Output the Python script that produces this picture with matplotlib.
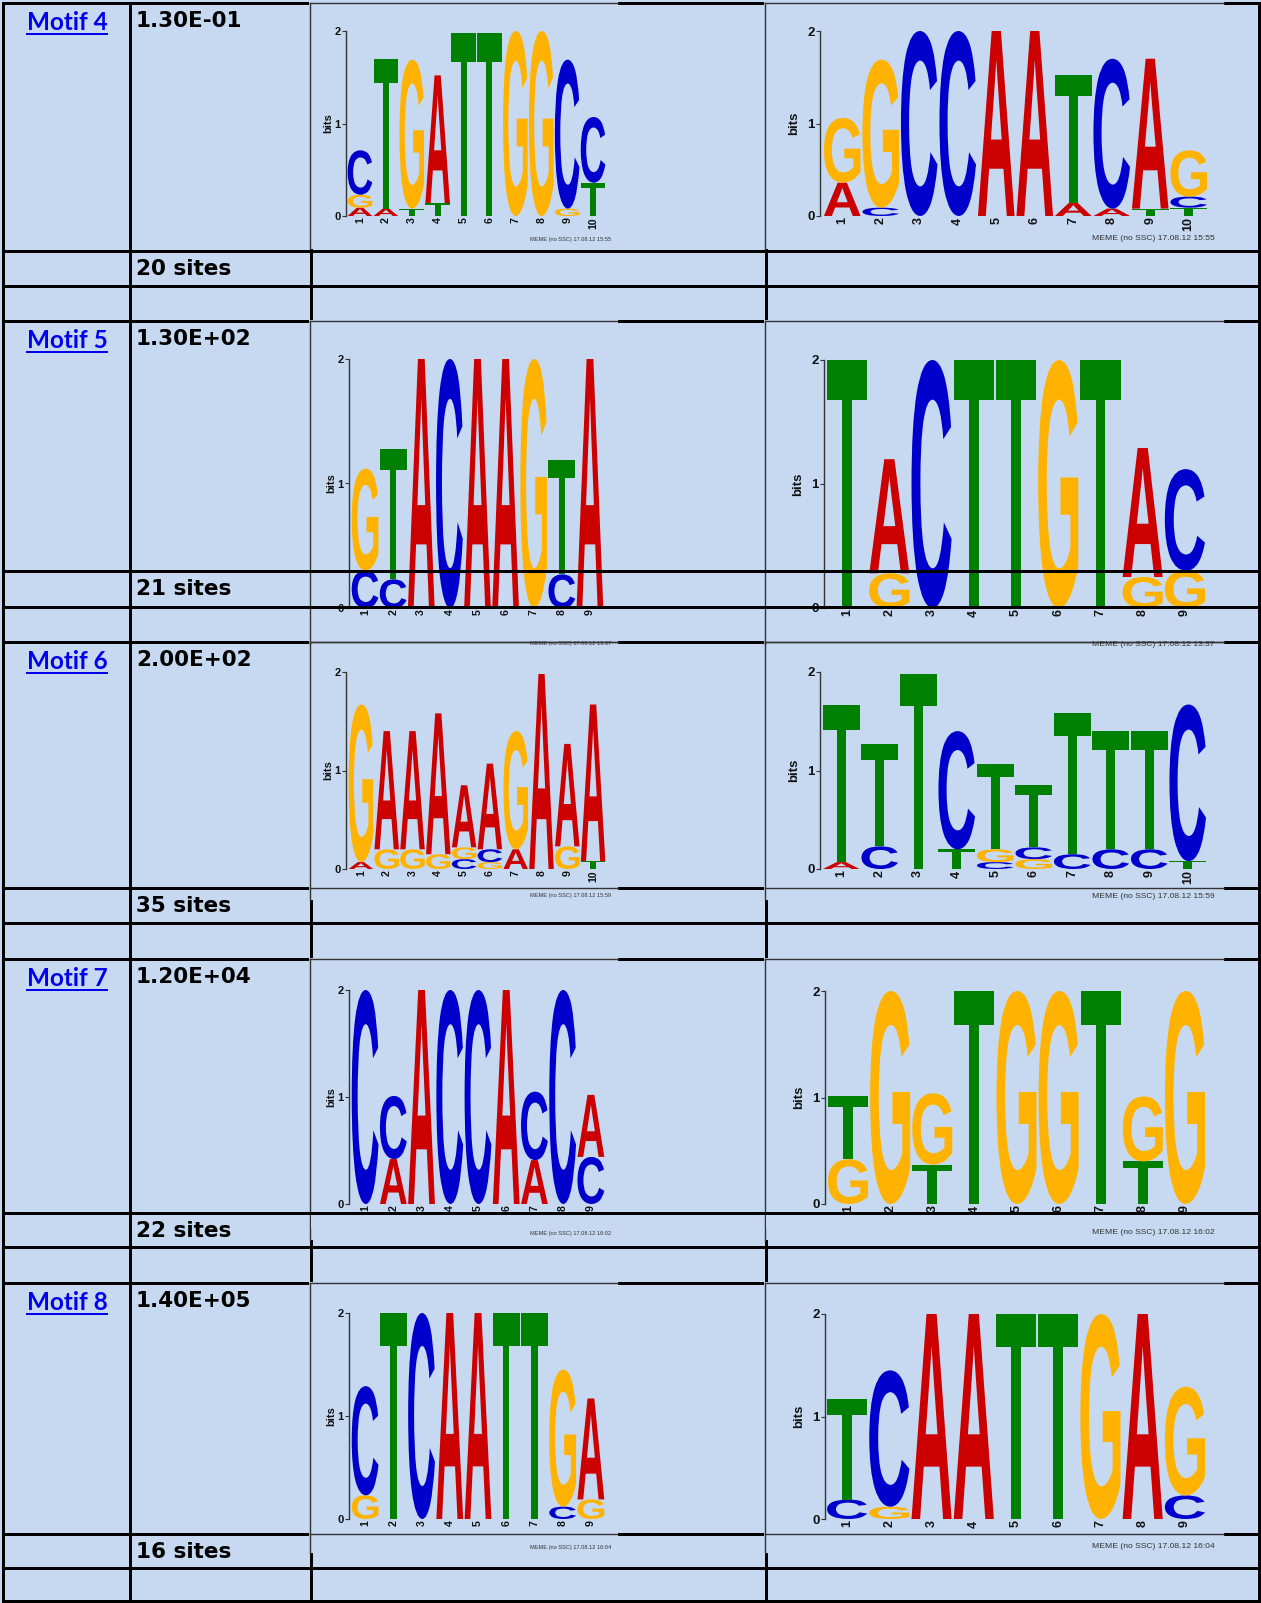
import matplotlib
matplotlib.use('Agg')
import matplotlib.pyplot as plt
from matplotlib.font_manager import FontProperties
from matplotlib.patches import PathPatch, Rectangle
from matplotlib.textpath import TextPath
from matplotlib.transforms import Affine2D

# --- Table content ---
motif_names = ['Motif 4', 'Motif 5', 'Motif 6', 'Motif 7', 'Motif 8']
evalues = ['1.30E-01', '1.30E+02', '2.00E+02', '1.20E+04', '1.40E+05']
site_counts = [20, 21, 35, 22, 16]
stamps = ['17.08.12 15:55', '17.08.12 13:37', '17.08.12 15:59',
          '17.08.12 16:02', '17.08.12 16:04']

# --- Logo data: letters of each column bottom to top, heights in bits ---
m4_fwd_letters = ['AGC', 'AT', 'TG', 'TA', 'T', 'T', 'G', 'G', 'GC', 'TC']
m4_fwd_bits = [[.09, .14, .48], [.08, 1.62], [.08, 1.61], [.14, 1.38], [1.98],
               [1.98], [2.0], [2.0], [.08, 1.61], [.36, .71]]
m4_rev_letters = ['AG', 'CG', 'C', 'C', 'A', 'A', 'AT', 'AC', 'TA', 'TCG']
m4_rev_bits = [[.36, .70], [.09, 1.60], [2.0], [2.0], [2.0], [2.0],
               [.14, 1.38], [.08, 1.62], [.08, 1.62], [.09, .12, .50]]

m5_fwd_letters = ['CG', 'CT', 'A', 'C', 'A', 'A', 'G', 'CT', 'A']
m5_fwd_bits = [[.30, .82], [.23, 1.05], [2.0], [2.0], [2.0], [2.0], [2.0],
               [.27, .92], [2.0]]
m5_rev_letters = ['T', 'GA', 'C', 'T', 'T', 'G', 'T', 'GA', 'GC']
m5_rev_bits = [[2.0], [.28, .92], [2.0], [2.0], [2.0], [2.0], [2.0],
               [.25, 1.04], [.30, .82]]

m6_fwd_letters = ['AG', 'GA', 'GA', 'GA', 'CGA', 'GCA', 'AG', 'A', 'GA', 'TA']
m6_fwd_bits = [[.07, 1.60], [.20, 1.20], [.20, 1.20], [.15, 1.43],
               [.10, .12, .63], [.07, .13, .87], [.20, 1.20], [1.98],
               [.23, 1.04], [.08, 1.59]]
m6_rev_letters = ['AT', 'CT', 'T', 'TC', 'CGT', 'GCT', 'CT', 'CT', 'CT', 'TC']
m6_rev_bits = [[.07, 1.60], [.23, 1.04], [1.98], [.20, 1.20], [.07, .13, .87],
               [.10, .12, .63], [.15, 1.43], [.20, 1.20], [.20, 1.20],
               [.08, 1.59]]

m7_fwd_letters = ['C', 'AC', 'A', 'C', 'C', 'A', 'AC', 'C', 'CA']
m7_fwd_bits = [[2.0], [.42, .59], [2.0], [2.0], [2.0], [2.0], [.41, .64],
               [2.0], [.44, .58]]
m7_rev_letters = ['GT', 'G', 'TG', 'T', 'G', 'G', 'T', 'TG', 'G']
m7_rev_bits = [[.42, .59], [2.0], [.37, .67], [2.0], [2.0], [2.0], [2.0],
               [.40, .61], [2.0]]

m8_fwd_letters = ['GC', 'T', 'C', 'A', 'A', 'T', 'T', 'CG', 'GA']
m8_fwd_bits = [[.23, 1.06], [2.0], [2.0], [2.0], [2.0], [2.0], [2.0],
               [.12, 1.33], [.19, .98]]
m8_rev_letters = ['CT', 'GC', 'A', 'A', 'T', 'T', 'G', 'A', 'CG']
m8_rev_bits = [[.19, .98], [.12, 1.33], [2.0], [2.0], [2.0], [2.0], [2.0],
               [2.0], [.23, 1.06]]

fwd_logos = [(m4_fwd_letters, m4_fwd_bits), (m5_fwd_letters, m5_fwd_bits),
             (m6_fwd_letters, m6_fwd_bits), (m7_fwd_letters, m7_fwd_bits),
             (m8_fwd_letters, m8_fwd_bits)]
rev_logos = [(m4_rev_letters, m4_rev_bits), (m5_rev_letters, m5_rev_bits),
             (m6_rev_letters, m6_rev_bits), (m7_rev_letters, m7_rev_bits),
             (m8_rev_letters, m8_rev_bits)]

# --- Layout (pixels, origin top left) ---
W, H = 1261, 1603
BG = '#C6D9F1'
PX = 0.72
H_LINES = [3, 251, 286, 321, 571, 607, 642, 888, 923, 959, 1213, 1247,
           1283, 1534, 1568, 1601]
V_LINES = [3, 130, 311, 766, 1259]
ROW_TOPS = [3, 321, 642, 959, 1283]
SITE_TOPS = [251, 571, 888, 1213, 1534]
# image blocks: top, bottom, extra thin lines, thick lines drawn over
IMG_Y = [(3, 249, [], []), (321, 644, [642], [571, 607]),
         (642, 900, [888], []), (959, 1240, [], [1213]),
         (1283, 1553, [1534], [])]
IMG_X = [(310, 618), (765, 1224)]
MEME_Y = [239, 644, 896, 1233, 1547]
# spine x, first letter x, last letter x, y of 0 bits, y of 2 bits
LEFT_GEOM = [(346, 347, 606, 216, 31), (349, 351, 604, 608, 359),
             (346, 348, 606, 869, 672), (349, 351, 605, 1204, 990),
             (349, 351, 605, 1519, 1313)]
RIGHT_GEOM = [(820, 823, 1208, 216, 31), (824, 826, 1206, 608, 360),
              (820, 822, 1207, 869, 672), (825, 827, 1206, 1204, 991),
              (825, 826, 1206, 1519, 1314)]

COLORS = {'A': '#CC0000', 'C': '#0000CC', 'G': '#FFB300', 'T': '#008000'}
LETTER_FP = FontProperties(family='Liberation Sans', weight='bold')

fig = plt.figure(figsize=(W / 100, H / 100), dpi=100, facecolor=BG)

bg = fig.add_axes([0, 0, 1, 1])
bg.set_xlim(0, W)
bg.set_ylim(H, 0)
bg.axis('off')
bg.set_zorder(0)

fg = fig.add_axes([0, 0, 1, 1])
fg.set_xlim(0, W)
fg.set_ylim(H, 0)
fg.axis('off')
fg.patch.set_visible(False)
fg.set_zorder(10)

# grid
for y in H_LINES:
    bg.plot([3, 1259], [y, y], color='black', lw=3 * PX, solid_capstyle='projecting', zorder=2)
for x in V_LINES:
    bg.plot([x, x], [3, 1601], color='black', lw=3 * PX, solid_capstyle='projecting', zorder=2)

# image blocks with their thin frames
for top, bottom, thin, thick in IMG_Y:
    for x0, x1 in IMG_X:
        bg.add_patch(Rectangle((x0 - 1, top - 1), x1 - x0 + 1, bottom - top + 1,
                               facecolor=BG, edgecolor='none', zorder=3))
        bg.plot([x0, x1], [top, top], color='#333333', lw=1.4 * PX, zorder=4)
        bg.plot([x0, x0], [top, bottom], color='#333333', lw=1.4 * PX, zorder=4)
        for y in thin:
            bg.plot([x0, x1], [y, y], color='#333333', lw=1.4 * PX, zorder=4)
        for y in thick:
            fg.plot([x0, x1], [y, y], color='black', lw=3 * PX, zorder=3)
            if y == 1213:
                # position numbers below this line are hidden in the source
                fg.add_patch(Rectangle((x0 + 1, y + 1.5), x1 - x0 - 1, 13,
                                       facecolor=BG, edgecolor='none', zorder=2))

# table text
motif_fp = FontProperties(family='Lato', weight='bold', size=17.5)
value_fp = FontProperties(family='DejaVu Sans', weight='bold', size=15.5)
for i, top in enumerate(ROW_TOPS):
    bg.text(27, top + 27, motif_names[i], fontproperties=motif_fp,
            color='#0000EE', va='baseline', ha='left', zorder=5)
    tw = TextPath((0, 0), motif_names[i], size=17.5, prop=motif_fp).get_extents().x1 * 100 / 72
    bg.plot([27, 27 + tw], [top + 30.5, top + 30.5], color='#0000EE', lw=2 * PX, zorder=5)
    bg.text(136, top + 24, evalues[i], fontproperties=value_fp,
            color='black', va='baseline', ha='left', zorder=5)
    bg.text(136, SITE_TOPS[i] + 24, f'{site_counts[i]} sites',
            fontproperties=value_fp, color='black', va='baseline', ha='left', zorder=5)


def draw_letter(ax, ch, x, y, w, h):
    tp = TextPath((0, 0), ch, size=1, prop=LETTER_FP)
    bb = tp.get_extents()
    tr = (Affine2D().translate(-bb.x0, -bb.y0)
          .scale(w / bb.width, h / bb.height).translate(x, y))
    ax.add_patch(PathPatch(tr.transform_path(tp), facecolor=COLORS[ch],
                           edgecolor='none', clip_on=False))


def make_logo(geom, letters, bits, fs, lab_gap):
    spine_x, l0, l1, y0, y2 = geom
    n = len(letters)
    colw = (l1 - l0) / n
    ax = fig.add_axes([spine_x / W, 1 - y0 / H, (l1 - spine_x) / W, (y0 - y2) / H])
    ax.set_zorder(5)
    ax.patch.set_visible(False)
    ax.set_xlim(0.5 - (l0 - spine_x) / colw, n + 0.5)
    ax.set_ylim(0, 2)
    for s in ['top', 'right', 'bottom']:
        ax.spines[s].set_visible(False)
    ax.spines['left'].set_color('#333333')
    ax.spines['left'].set_linewidth(1.0)
    ax.set_yticks([0, 1, 2])
    ax.set_xticks(range(1, n + 1))
    ax.tick_params(axis='y', length=4 * PX, width=0.8, color='#333333', pad=1,
                   labelsize=fs, labelcolor='#111111')
    ax.tick_params(axis='x', length=0, pad=1, labelsize=fs * 0.95,
                   labelrotation=90, labelcolor='#111111')
    for lab in ax.get_xticklabels() + ax.get_yticklabels():
        lab.set_fontweight('bold')
        lab.set_family('Liberation Sans')
    ax.set_ylabel('bits', fontsize=fs, fontweight='bold', family='Liberation Sans',
                  color='#111111')
    ax.yaxis.set_label_coords(-lab_gap / (l1 - spine_x), 0.5)
    for pos, (col, hs) in enumerate(zip(letters, bits), start=1):
        base = 0.0
        for ch, h in zip(col, hs):
            draw_letter(ax, ch, pos - 0.475, base, 0.95, h)
            base += h
    return ax


for i in range(5):
    make_logo(LEFT_GEOM[i], *fwd_logos[i], fs=8, lab_gap=13)
    make_logo(RIGHT_GEOM[i], *rev_logos[i], fs=9.5, lab_gap=20)
    fg.text(611, MEME_Y[i], 'MEME (no SSC) ' + stamps[i], fontsize=4.1,
            family='Liberation Sans', color='#333333', ha='right', va='center', zorder=6)
    fg.text(1215, MEME_Y[i], 'MEME (no SSC) ' + stamps[i], fontsize=6.1,
            family='Liberation Sans', color='#333333', ha='right', va='center', zorder=6)

fig.savefig('out.png', dpi=100, facecolor=BG)
